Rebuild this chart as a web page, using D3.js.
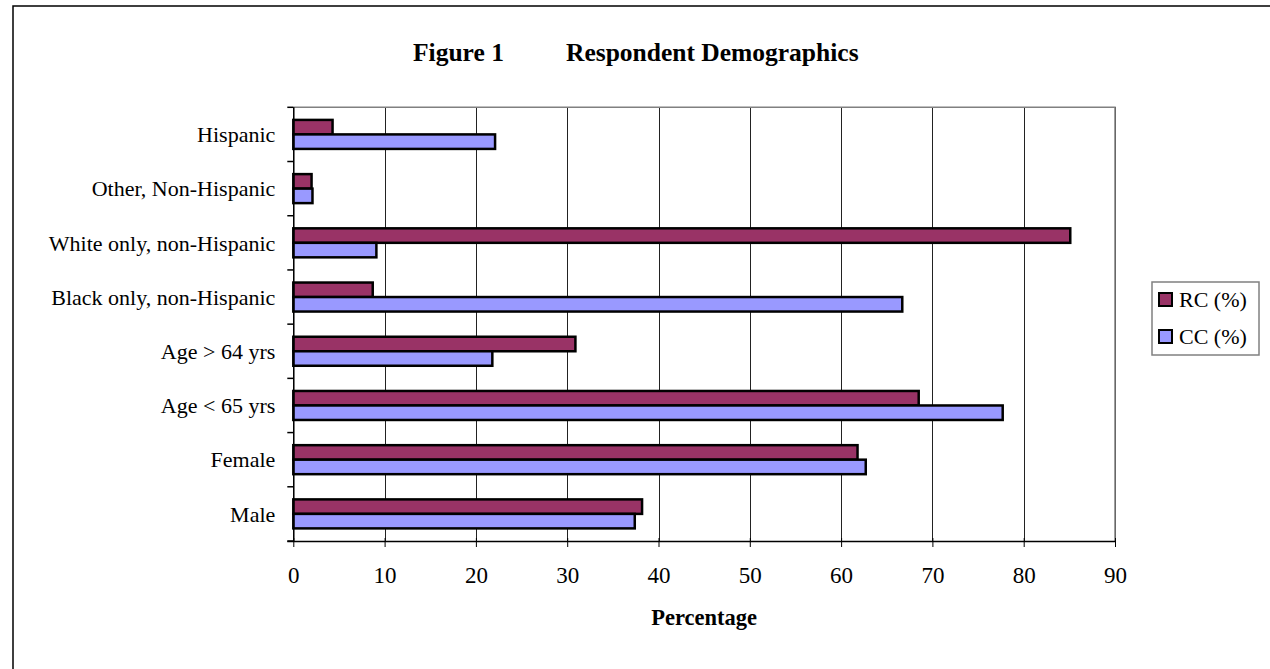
<!DOCTYPE html>
<html>
<head>
<meta charset="utf-8">
<script src="https://cdn.jsdelivr.net/npm/d3@7"></script>
<style>
  html, body { margin: 0; padding: 0; background: #fff; }
  svg { display: block; }
  text { font-family: "Liberation Serif", "Times New Roman", serif; fill: #000; }
</style>
</head>
<body>
<svg id="chart" width="1270" height="669"></svg>
<script>
// Categories, listed bottom-to-top as in the source chart
const categories = ["Male", "Female", "Age < 65 yrs", "Age > 64 yrs",
  "Black only, non-Hispanic", "White only, non-Hispanic", "Other, Non-Hispanic", "Hispanic"];
const seriesNames = ["RC (%)", "CC (%)"];
const rcValues = [38.2, 61.8, 68.5, 30.9, 8.7, 85.1, 2.0, 4.3];
const ccValues = [37.4, 62.7, 77.7, 21.8, 66.7, 9.1, 2.1, 22.1];
const xTicks = [0, 10, 20, 30, 40, 50, 60, 70, 80, 90];
const titleLeft = "Figure 1";
const titleRight = "Respondent Demographics";
const xAxisTitle = "Percentage";
const colors = ["#993366", "#9999FF"];

const svg = d3.select("#chart");
const W = 1270, H = 669;

// outer frame
svg.append("rect").attr("x", 13).attr("y", 6).attr("width", 1300).attr("height", 700)
  .attr("fill", "none").attr("stroke", "#000").attr("stroke-width", 1.5);

const plot = { left: 293.3, right: 1115, top: 107.3, bottom: 541 };

const x = d3.scaleLinear().domain([0, 90]).range([plot.left, plot.right]);
const y = d3.scaleBand()
  .domain(categories.slice().reverse())
  .range([plot.top, plot.bottom])
  .paddingInner(0.465).paddingOuter(0.2325);
const ys = d3.scaleBand().domain(seriesNames).range([0, y.bandwidth()]);

// gridlines
const grid = svg.append("g").attr("transform", `translate(0,${plot.bottom})`)
  .call(d3.axisBottom(x).tickValues(xTicks).tickSize(-(plot.bottom - plot.top)).tickFormat(""));
grid.select(".domain").remove();
grid.selectAll("line").attr("stroke", "#222").attr("stroke-width", 1).attr("shape-rendering", "crispEdges");

// plot area border top/right (gray)
svg.append("path")
  .attr("d", `M${plot.left},${plot.top}H${plot.right}V${plot.bottom}`)
  .attr("fill", "none").attr("stroke", "#808080").attr("stroke-width", 1.5);

// bars
const rows = categories.map((c, i) => ({ cat: c, vals: [rcValues[i], ccValues[i]] }));
const groups = svg.append("g").selectAll("g").data(rows).join("g")
  .attr("transform", d => `translate(0,${y(d.cat)})`);
groups.selectAll("rect").data(d => d.vals.map((v, j) => ({ v, s: seriesNames[j], j })))
  .join("rect")
  .attr("x", x(0))
  .attr("y", d => ys(d.s))
  .attr("width", d => x(d.v) - x(0))
  .attr("height", ys.bandwidth())
  .attr("fill", d => colors[d.j])
  .attr("stroke", "#000").attr("stroke-width", 2.5);

// x axis
const xa = svg.append("g").attr("transform", `translate(0,${plot.bottom})`)
  .call(d3.axisBottom(x).tickValues(xTicks).tickSizeInner(6).tickSizeOuter(0).tickPadding(20));
xa.select(".domain").attr("d", `M${plot.left - 6},0.5H${plot.right}`).attr("stroke", "#000").attr("stroke-width", 1.5);
xa.selectAll(".tick line").attr("stroke", "#000").attr("y1", -3);
xa.selectAll(".tick text").attr("font-family", "Liberation Serif, serif").attr("font-size", 23);

// y axis
const ya = svg.append("g").attr("transform", `translate(${plot.left},0)`)
  .call(d3.axisLeft(y).tickSize(0).tickPadding(18));
ya.select(".domain").attr("d", `M0.5,${plot.top}V${plot.bottom}`).attr("stroke", "#000").attr("stroke-width", 1.5);
ya.selectAll(".tick text").attr("font-family", "Liberation Serif, serif").attr("font-size", 22).attr("dy", "0.35em");
// boundary ticks between categories
const bounds = y.domain().map(c => y(c) - y.step() * y.paddingInner() / 2).concat([plot.bottom]);
svg.append("g").selectAll("line").data(bounds).join("line")
  .attr("x1", plot.left - 6).attr("x2", plot.left)
  .attr("y1", d => d).attr("y2", d => d)
  .attr("stroke", "#000").attr("stroke-width", 1.5);

// axis title
svg.append("text").attr("x", (plot.left + plot.right) / 2 + 0).attr("y", 625)
  .attr("text-anchor", "middle").attr("font-weight", "bold").attr("font-size", 22.5)
  .text(xAxisTitle);

// chart title
svg.append("text").attr("x", 413).attr("y", 61).attr("font-weight", "bold").attr("font-size", 25.5).text(titleLeft);
svg.append("text").attr("x", 566).attr("y", 61).attr("font-weight", "bold").attr("font-size", 25.5).text(titleRight);

// legend
const lg = svg.append("g");
lg.append("rect").attr("x", 1152).attr("y", 282).attr("width", 107).attr("height", 73)
  .attr("fill", "#fff").attr("stroke", "#808080").attr("stroke-width", 1.5);
const items = lg.selectAll("g.item").data(seriesNames).join("g").attr("class", "item")
  .attr("transform", (d, i) => `translate(1159,${293 + i * 37})`);
items.append("rect").attr("width", 13).attr("height", 13)
  .attr("fill", (d, i) => colors[i]).attr("stroke", "#000").attr("stroke-width", 2);
items.append("text").attr("x", 20).attr("y", 14).attr("font-size", 22).text(d => d);
</script>
</body>
</html>
